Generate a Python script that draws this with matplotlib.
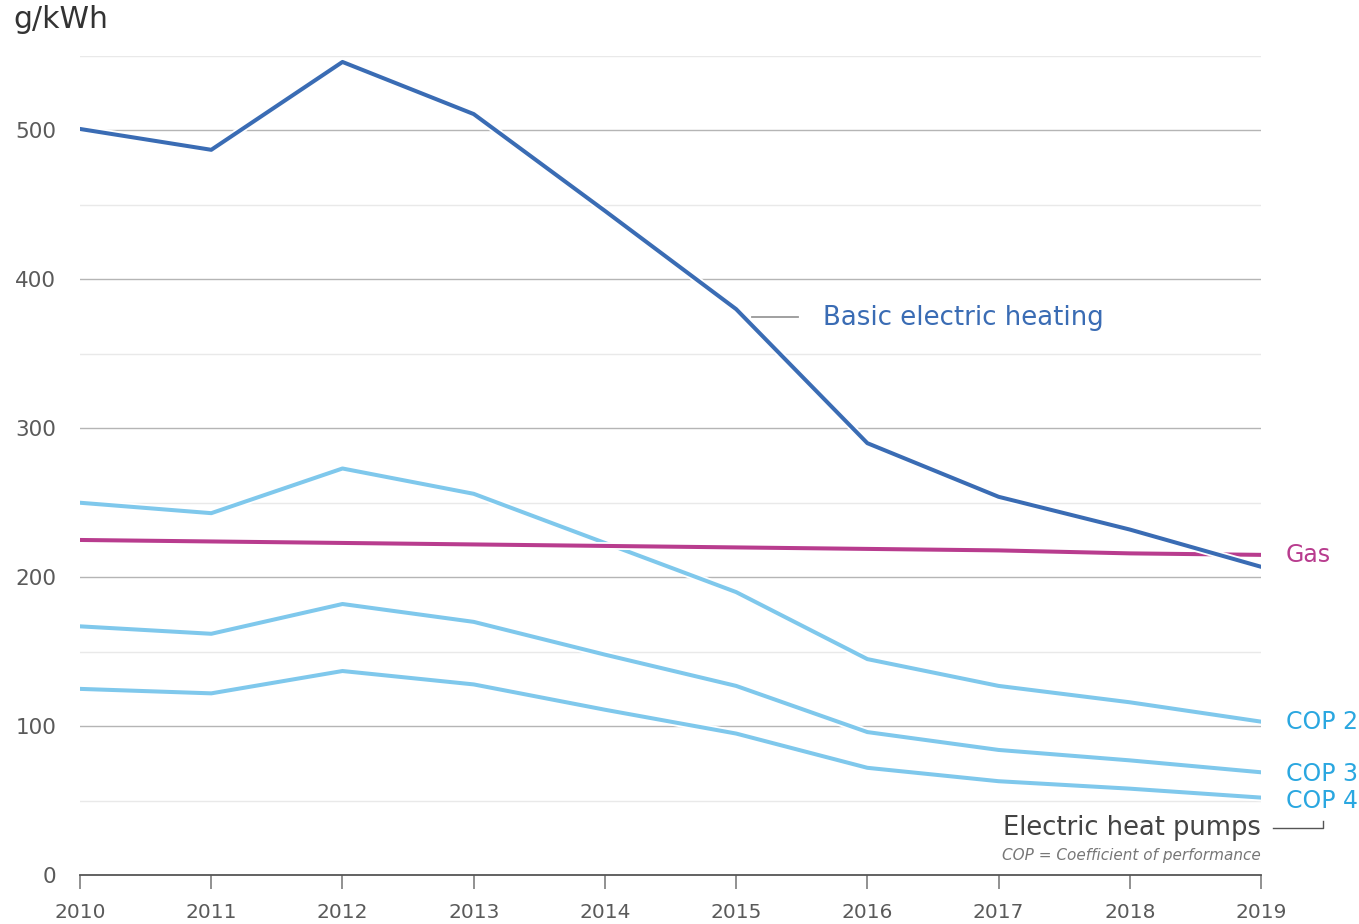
import matplotlib
matplotlib.use("Agg")
import matplotlib.pyplot as plt
import matplotlib.patheffects as pe

years = [2010, 2011, 2012, 2013, 2014, 2015, 2016, 2017, 2018, 2019]
basic_electric = [501, 487, 546, 511, 446, 380, 290, 254, 232, 207]
gas = [225, 224, 223, 222, 221, 220, 219, 218, 216, 215]
cop2 = [250, 243, 273, 256, 223, 190, 145, 127, 116, 103]
cop3 = [167, 162, 182, 170, 148, 127, 96, 84, 77, 69]
cop4 = [125, 122, 137, 128, 111, 95, 72, 63, 58, 52]

y_major = [0, 100, 200, 300, 400, 500]
y_minor = [50, 150, 250, 350, 450, 550]

C_DARK = "#3a6cb4"
C_LIGHT = "#7fc8ec"
C_GAS = "#b83c8e"
C_COP = "#2aa7e0"
C_TEXT = "#5a5a5a"

plt.rcParams["font.family"] = ["DejaVu Sans"]

fig = plt.figure(figsize=(13.59, 9.24), dpi=100)
ax = fig.add_axes([0.0589, 0.053, 0.869, 0.8864])
ax.set_xlim(2010, 2019)
ax.set_ylim(0, 550)

for v in y_minor:
    ax.axhline(v, color="#e9e9e9", lw=1, zorder=0)
for v in y_major[1:]:
    ax.axhline(v, color="#b5b5b5", lw=1, zorder=0)

outline = [pe.Stroke(linewidth=5.5, foreground="white"), pe.Normal()]
for s in (cop4, cop3, cop2):
    ax.plot(years, s, color=C_LIGHT, lw=2.9, path_effects=outline, zorder=3)
ax.plot(years, gas, color=C_GAS, lw=2.9, path_effects=outline, zorder=4)
ax.plot(years, basic_electric, color=C_DARK, lw=2.9, path_effects=outline, zorder=5)

for sp in ("top", "right", "left"):
    ax.spines[sp].set_visible(False)
ax.spines["bottom"].set_color("#555555")
ax.spines["bottom"].set_linewidth(1.3)

ax.set_xticks(years)
ax.set_xticklabels([str(y) for y in years])
ax.set_yticks(y_major)
ax.set_yticklabels([str(v) for v in y_major])
ax.tick_params(axis="x", length=10, width=1.3, color="#888888", labelsize=14.5,
               labelcolor=C_TEXT, pad=10)
ax.tick_params(axis="y", length=0, labelsize=15.5, labelcolor=C_TEXT, pad=17)

fig.text(13 / 1359, 1 - 20 / 924, "g/kWh", fontsize=21.5, color="#333333",
         ha="left", va="center")

# series labels at the right end
lab = dict(xycoords="data", textcoords="offset points", va="center", ha="left",
           fontsize=17, annotation_clip=False)
ax.annotate("Gas", xy=(years[-1], gas[-1]), xytext=(18, 0), color=C_GAS, **lab)
ax.annotate("COP 2", xy=(years[-1], cop2[-1]), xytext=(18, 0), color=C_COP, **lab)
ax.annotate("COP 3", xy=(years[-1], cop3[-1]), xytext=(18, -1.5), color=C_COP, **lab)
ax.annotate("COP 4", xy=(years[-1], cop4[-1]), xytext=(18, -2.5), color=C_COP, **lab)

# basic electric label with leader
ax.text(2015.66, 374, "Basic electric heating", color=C_DARK, fontsize=18.7,
        va="center", ha="left")
ax.plot([2015.12, 2015.47], [374.5, 374.5], color="#999999", lw=1.3, zorder=6)

# electric heat pumps note
ax.text(2019, 31.5, "Electric heat pumps", fontsize=18.5, color="#444444",
        ha="right", va="center", zorder=6,
        bbox=dict(facecolor="white", edgecolor="none", pad=1))
ax.text(2019, 13, "COP = Coefficient of performance", fontsize=11, color="#777777",
        style="italic", ha="right", va="center")
ax.plot([2019.09, 2019.47, 2019.47], [31.5, 31.5, 36.5], color="#555555", lw=1,
        clip_on=False, zorder=6)

fig.savefig("out.png", dpi=100, facecolor="white")
